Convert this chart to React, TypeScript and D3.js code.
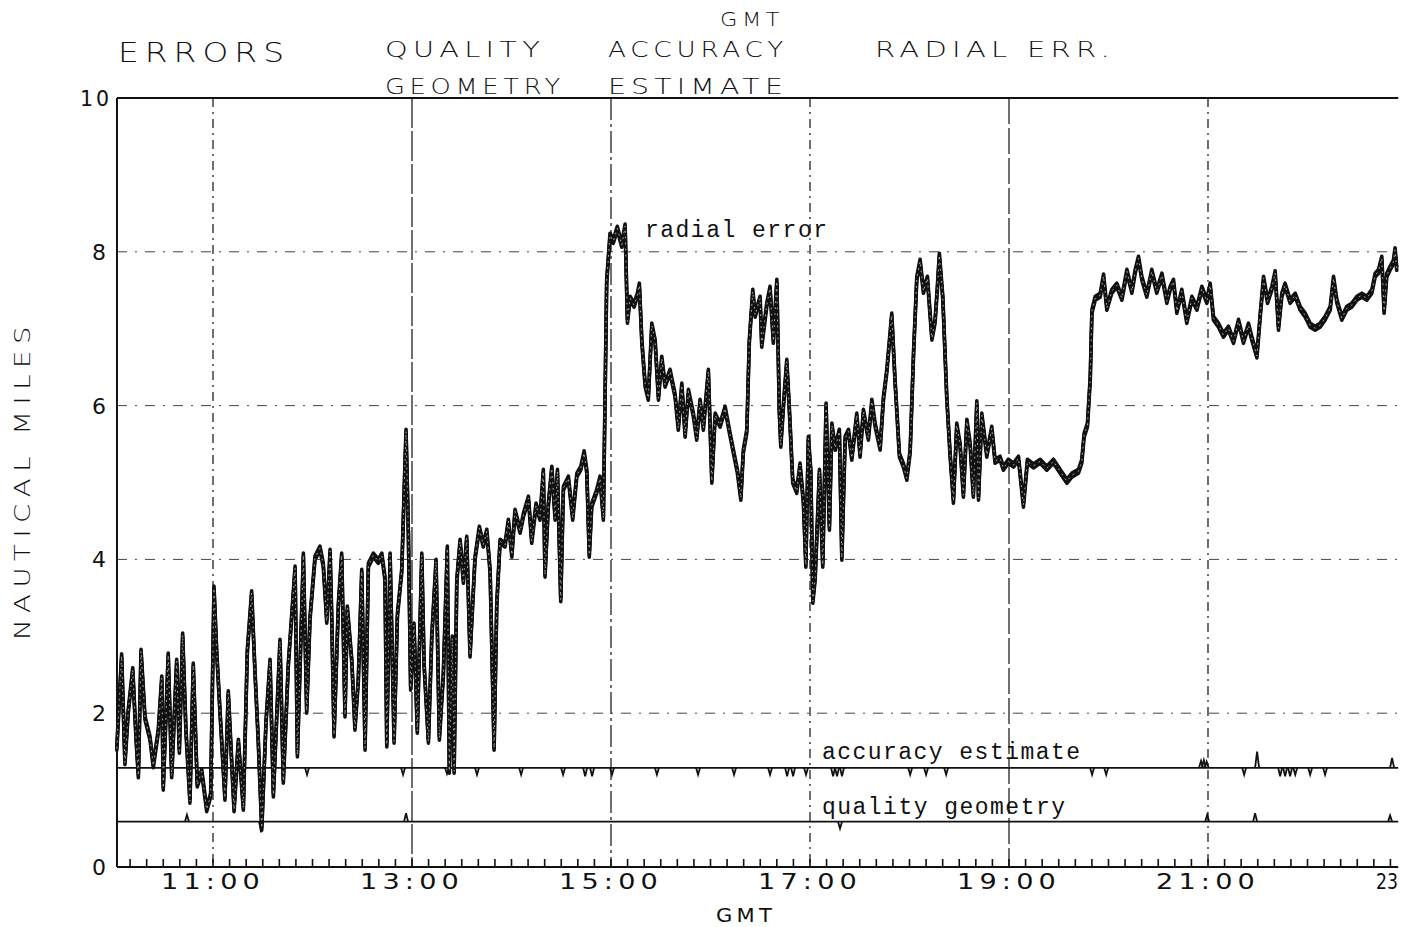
import React from 'react';
import * as d3 from 'd3';

// minutes after 10:00 GMT, nautical miles
const radialMinutes = [
  2.0, 4.9, 6.9, 8.9, 11.6, 13.6, 15.0, 16.6, 19.0, 22.0, 24.0, 27.0, 29.1, 30.0, 33.0, 35.1, 38.1, 39.7,
  41.7, 43.7, 46.1, 48.1, 50.5, 53.2, 56.2, 58.6, 60.6, 62.2, 64.2, 67.2, 69.2, 72.7, 75.3, 78.3, 80.7,
  83.3, 85.3, 87.3, 89.4, 92.0, 94.4, 96.4, 100.4, 102.4, 105.4, 109.5, 110.9, 114.5, 116.5, 118.5, 121.5,
  124.5, 126.5, 128.6, 130.6,
  131.6, 133.0, 135.6, 137.6, 139.6, 141.0, 143.7, 145.6, 147.6, 149.7, 151.7, 153.7, 156.7, 159.7, 161.8,
  163.7, 164.8, 166.8, 169.2, 171.2, 173.8, 176.4, 177.8, 179.2, 181.2, 183.2, 185.9, 187.3, 189.9, 191.9,
  194.5, 196.5, 198.9, 201.3, 202.5, 204.3, 205.4, 207.0, 209.0, 211.0, 213.0, 215.0, 218.0, 220.6, 223.0,
  225.1, 227.1, 229.5, 231.1, 233.1, 236.1, 238.1, 240.2, 242.1, 245.2, 247.2, 250.2, 252.2, 254.8, 257.2,
  259.2, 260.2, 262.2, 264.3, 266.3, 267.7, 269.7, 271.3, 274.3, 276.9, 279.4, 281.8, 283.8, 285.4, 286.9,
  288.4, 291.4, 293.4, 295.4, 297.4, 299.4, 301.4, 303.8, 306.5, 308.5, 309.9, 311.5, 313.9, 315.9, 317.1,
  318.6, 320.6, 322.5, 324.6, 326.6, 328.6, 330.6, 332.6, 335.6, 338.6, 340.6, 342.7, 344.7, 346.7, 349.7,
  351.7, 353.7, 355.7, 358.7, 360.8, 362.8, 365.8, 368.8, 371.4, 373.8, 376.2, 378.3, 379.8, 381.9, 383.4,
  385.5, 386.9, 389.9, 390.9, 393.9, 395.9, 397.9, 400.0, 401.5, 402.4, 404.0, 406.0, 407.6, 409.6, 412.0,
  414.0, 416.0, 417.5, 419.0, 420.5, 421.7, 423.1, 425.7, 427.7, 429.7, 431.7, 433.2, 435.2, 437.7, 439.2,
  441.2, 443.2, 445.2, 448.2, 450.2, 452.2, 455.2, 457.3, 459.3, 462.3, 464.3, 466.3, 469.3, 471.3, 473.9,
  476.3, 478.4, 480.4, 482.4, 484.4, 486.4, 488.4, 490.8, 493.5, 495.4, 496.8, 498.0, 500.1, 502.5, 504.5,
  506.5, 508.5, 510.5,
  512.5, 514.6, 516.6, 518.5, 520.6, 521.6, 523.6, 526.6, 529.6, 531.6, 534.6, 536.6, 539.6, 542.7, 545.7,
  548.7, 551.1, 554.7, 558.8, 562.8, 566.8, 570.8, 574.9, 577.9, 581.9, 583.9, 585.3, 587.3, 589.0, 590.0,
  592.0, 595.0, 597.0, 599.0, 602.0, 605.0, 608.1, 611.1, 614.1, 616.1, 618.1, 620.1, 623.1, 626.1, 629.1,
  632.2, 635.2, 637.2,
  639.2, 641.2, 644.2, 647.2, 650.3, 653.3, 656.3, 659.3, 661.3, 663.3, 666.3, 669.3, 672.3, 675.4, 678.4,
  681.4, 684.4, 686.4, 689.5, 691.5, 693.5, 695.9, 698.5, 700.5, 702.5, 704.5, 706.5, 709.5, 712.6, 715.6,
  718.6, 721.6, 724.6, 727.6, 730.6, 733.7, 735.7, 737.7, 740.7, 743.7, 746.7, 749.8, 752.8, 755.8, 758.8,
  760.8, 762.8, 764.8, 766.2, 767.8, 769.8, 771.8, 772.8, 773.8,
];
const radialMiles = [
  1.52, 2.72, 1.33, 2.0, 2.54, 1.65, 1.16, 2.78, 1.91, 1.65, 1.29, 1.74, 2.43, 1.0, 2.73, 1.16, 2.65, 1.48,
  2.99, 1.74, 0.83, 2.6, 1.04, 1.22, 0.72, 0.91, 3.6, 2.78, 2.0, 0.87, 2.24, 0.72, 1.61, 0.74, 2.78,
  3.54, 2.52, 1.61, 0.48, 1.87, 2.65, 0.91, 2.91, 1.09, 2.6, 3.86, 1.43, 4.03, 2.0, 3.21, 3.99,
  4.12, 3.9, 3.17, 4.08,
  3.21, 1.69, 3.38, 4.03, 1.95, 3.34, 2.65, 1.78, 2.39, 3.82, 1.52, 3.9, 4.03, 3.95, 4.03,
  3.73, 1.56, 4.03, 1.61, 3.25, 3.82, 5.64, 4.34, 2.3, 3.12, 1.74, 4.03, 2.6, 1.61, 2.95,
  3.95, 1.65, 2.47, 4.12, 1.22, 2.95, 1.22, 3.69, 4.21, 3.69, 4.25, 2.73, 3.99, 4.38, 4.16,
  4.34, 3.82, 1.52, 3.38, 4.21, 4.16, 4.47, 4.03, 4.6, 4.34, 4.55, 4.77, 4.21, 4.68, 4.51,
  5.12, 3.77, 4.68, 5.16, 4.51, 5.12, 3.45, 4.9, 5.03, 4.51, 5.07, 5.16, 5.36, 5.12, 4.03,
  4.68, 4.86, 5.03, 4.51, 7.59, 8.19, 8.11, 8.28, 8.06, 8.31, 7.07, 7.37, 7.28, 7.41, 7.54,
  6.81, 6.24, 6.07, 7.02, 6.81, 6.07, 6.59, 6.24, 6.42, 6.11, 5.68, 6.24, 5.59, 6.16, 5.85,
  5.55, 6.03, 5.68, 6.42, 4.99, 5.85, 5.72, 5.94, 5.64, 5.38, 5.12, 4.77, 5.38, 5.64, 6.81,
  7.46, 7.15, 7.37, 6.76, 7.28, 7.5, 6.81, 7.59, 5.9, 5.46, 5.98, 6.55, 5.9, 4.99, 4.86,
  5.2, 4.73, 3.9, 5.55, 5.12, 3.43, 3.73, 5.12, 3.9, 5.98, 4.38, 5.72, 5.42, 5.64, 3.99,
  5.55, 5.64, 5.29, 5.85, 5.33, 5.9, 5.55, 6.03, 5.72, 5.42, 6.07, 6.42, 7.15, 6.29, 5.33,
  5.2, 5.03, 5.38, 6.63, 7.63, 7.85, 7.46, 7.63, 6.85, 7.07, 7.5, 7.93, 7.37, 6.07, 5.33,
  4.73, 5.72, 5.46,
  4.81, 5.77, 5.46, 4.81, 6.01, 4.77, 5.85, 5.33, 5.68, 5.25, 5.29, 5.16, 5.25, 5.2, 5.29,
  4.68, 5.25, 5.19, 5.25, 5.16, 5.25, 5.12, 4.99, 5.07, 5.12, 5.25, 5.59, 5.72, 6.33, 7.2,
  7.37, 7.41, 7.66, 7.24, 7.46, 7.54, 7.37, 7.72, 7.46, 7.72, 7.89, 7.63, 7.41, 7.72, 7.46,
  7.67, 7.33, 7.5,
  7.59, 7.2, 7.46, 7.07, 7.37, 7.24, 7.5, 7.33, 7.54, 7.11, 7.02, 6.89, 6.98, 6.81, 7.07,
  6.81, 7.02, 6.85, 6.62, 7.15, 7.63, 7.33, 7.5, 7.7, 6.98, 7.41, 7.54, 7.33, 7.41, 7.24,
  7.15, 7.02, 6.98, 7.02, 7.11, 7.24, 7.63, 7.33, 7.11, 7.24, 7.28, 7.37, 7.41, 7.37, 7.46,
  7.67, 7.72, 7.89, 7.2, 7.67, 7.76, 7.84, 8.0, 7.76,
];

// accuracy estimate: steady level with short excursions
const accuracyLevel = 1.29;
const accuracyEventMinutes = [
  116.7, 174.6, 201.1, 219.2, 245.8, 271.1, 284.4, 288.6, 300.6, 327.7, 352.5, 374.2, 395.9, 406.2, 409.8,
  417.6, 433.9, 436.3, 439.3, 480.4, 490.0, 502.1, 590.1, 598.6, 655.8, 657.5, 659.2, 681.8, 689.6, 703.5,
  706.5, 709.5, 712.6, 721.6, 730.6, 771.0,
];
const accuracyEventMiles = [
  1.2, 1.2, 1.21, 1.2, 1.2, 1.2, 1.18, 1.18, 1.2, 1.2, 1.2, 1.2, 1.2, 1.18, 1.18,
  1.2, 1.18, 1.18, 1.18, 1.2, 1.2, 1.2, 1.2, 1.2, 1.38, 1.39, 1.37, 1.2, 1.5, 1.18,
  1.18, 1.18, 1.2, 1.2, 1.2, 1.42,
];

// quality geometry
const qualityLevel = 0.59;
const qualityEventMinutes = [44.3, 89.0, 176.4, 438.1, 659.5, 688.4, 769.8];
const qualityEventMiles = [0.68, 0.45, 0.7, 0.5, 0.68, 0.7, 0.67];

const yTicks = [0, 2, 4, 6, 8, 10];
const yTickLabels = ['0', '2', '4', '6', '8', '10'];
const hourLines = [60, 180, 300, 420, 540, 660];
const hourLabels = ['11:00', '13:00', '15:00', '17:00', '19:00', '21:00', '23'];
const hourLabelMinutes = [60, 180, 300, 420, 540, 660, 780];

const W = 1402;
const H = 927;
const plotStart = 2.1;
const plotEnd = 774.7;

const x = d3.scaleLinear().domain([0, 780]).range([113.5, 1407]);
const y = d3.scaleLinear().domain([0, 10]).range([867, 98]);

const plotterFont = "'DejaVu Sans', sans-serif";
const typeFont = "'Liberation Mono', 'DejaVu Sans Mono', monospace";

const gridDash = ['9 5 2 5', '30 3', '22 4 3 4', '9 5 2 5', '26 4', '9 5 2 5'];

// wide plotter-style lettering
const Plot = ({ x0, y0, size, len, spacing, children, anchor }: any) => (
  <text
    x={x0}
    y={y0}
    fontSize={size}
    letterSpacing={spacing}
    textLength={len}
    lengthAdjust="spacingAndGlyphs"
    textAnchor={anchor || 'start'}
  >
    {children}
  </text>
);

export default function App() {
  const radialLine = d3
    .line<number>()
    .x((d, i) => x(radialMinutes[i]))
    .y((d) => y(d));
  const radialPath = radialLine(radialMiles) || '';

  const minorTicks = d3.range(10, plotEnd, 10);

  const eventMark = (t: number, v: number, level: number) => {
    const w = 2;
    return `M${x(t) - w},${y(level)}L${x(t)},${y(v)}L${x(t) + w},${y(level)}`;
  };

  return (
    <svg
      width={W}
      height={H}
      style={{ position: 'absolute', left: 0, top: 0, background: '#fff' }}
    >
      <rect width={W} height={H} fill="#fff" />

      {/* header */}
      <g fontFamily={plotterFont} fontWeight={300} fill="#111">
        <Plot x0={720} y0={26} size={20} len={64} spacing={4}>GMT</Plot>
        <Plot x0={118} y0={62} size={27} len={172} spacing={5}>ERRORS</Plot>
        <Plot x0={385} y0={57} size={22} len={160} spacing={4}>QUALITY</Plot>
        <Plot x0={385} y0={94} size={22} len={180} spacing={4}>GEOMETRY</Plot>
        <Plot x0={608} y0={57} size={22} len={180} spacing={4}>ACCURACY</Plot>
        <Plot x0={608} y0={94} size={22} len={180} spacing={4}>ESTIMATE</Plot>
        <Plot x0={875} y0={57} size={22} len={240} spacing={4}>RADIAL ERR.</Plot>
      </g>

      {/* horizontal grid */}
      {yTicks.filter((v) => v > 0 && v < 10).map((v) => (
        <line
          key={'h' + v}
          x1={x(plotStart)}
          x2={x(plotEnd)}
          y1={y(v)}
          y2={y(v)}
          stroke="#444"
          strokeWidth={1}
          strokeDasharray="10 8 2 8"
        />
      ))}

      {/* vertical grid */}
      {hourLines.map((m, i) => (
        <line
          key={'v' + m}
          x1={x(m)}
          x2={x(m)}
          y1={y(10)}
          y2={y(0)}
          stroke="#222"
          strokeWidth={1.3}
          strokeDasharray={gridDash[i]}
        />
      ))}

      {/* frame */}
      <line x1={x(plotStart)} x2={x(plotEnd)} y1={y(10)} y2={y(10)} stroke="#111" strokeWidth={2} />
      <line x1={x(plotStart)} x2={x(plotStart)} y1={y(10)} y2={y(0)} stroke="#111" strokeWidth={2} />
      <line x1={x(plotStart)} x2={x(plotEnd)} y1={y(0)} y2={y(0)} stroke="#111" strokeWidth={2} />
      {minorTicks.map((m) => (
        <line key={'t' + m} x1={x(m)} x2={x(m)} y1={y(0)} y2={y(0) - 8} stroke="#111" strokeWidth={1.6} />
      ))}

      {/* y tick labels */}
      <g fontFamily={plotterFont} fill="#111">
        {yTicks.map((v, i) =>
          v === 10 ? (
            <Plot key={'yl' + v} x0={80} y0={y(v) + 8} size={21} len={32} spacing={3}>
              {yTickLabels[i]}
            </Plot>
          ) : (
            <Plot key={'yl' + v} x0={92} y0={y(v) + 8} size={21} len={14} spacing={0}>
              {yTickLabels[i]}
            </Plot>
          )
        )}
      </g>

      {/* x tick labels */}
      <g fontFamily={plotterFont} fill="#111">
        {hourLabelMinutes.map((m, i) =>
          i === hourLabels.length - 1 ? (
            <Plot key={'xl' + m} x0={1376} y0={889} size={21} len={22} spacing={0}>
              {hourLabels[i]}
            </Plot>
          ) : (
            <Plot key={'xl' + m} x0={x(m) - 52} y0={889} size={21} len={104} spacing={4}>
              {hourLabels[i]}
            </Plot>
          )
        )}
        <Plot x0={716} y0={922} size={20} len={60} spacing={4}>GMT</Plot>
      </g>

      {/* y axis title */}
      <g fontFamily={plotterFont} fontWeight={300} fill="#111" transform="translate(30,640) rotate(-90)">
        <Plot x0={0} y0={0} size={21} len={320} spacing={5}>NAUTICAL MILES</Plot>
      </g>

      {/* quality geometry */}
      <line
        x1={x(2.6)}
        x2={x(plotEnd)}
        y1={y(qualityLevel)}
        y2={y(qualityLevel)}
        stroke="#111"
        strokeWidth={1.8}
      />
      {qualityEventMinutes.map((t, i) => (
        <path key={'q' + i} d={eventMark(t, qualityEventMiles[i], qualityLevel)} fill="none" stroke="#111" strokeWidth={1.8} />
      ))}

      {/* accuracy estimate */}
      <line
        x1={x(2.6)}
        x2={x(plotEnd)}
        y1={y(accuracyLevel)}
        y2={y(accuracyLevel)}
        stroke="#111"
        strokeWidth={1.8}
      />
      {accuracyEventMinutes.map((t, i) => (
        <path key={'a' + i} d={eventMark(t, accuracyEventMiles[i], accuracyLevel)} fill="none" stroke="#111" strokeWidth={1.8} />
      ))}

      {/* radial error: plotted as a band of overlapping pen strokes */}
      <g fill="none" strokeLinejoin="round" strokeLinecap="round">
        <path d={radialPath} stroke="#111" strokeWidth={3.6} transform="translate(0,-4)" />
        <path d={radialPath} stroke="#111" strokeWidth={3.6} />
        <path d={radialPath} stroke="#111" strokeWidth={3} transform="translate(0,-2)" />
        <path d={radialPath} stroke="#aaa" strokeWidth={1} strokeDasharray="1 5" transform="translate(0,-2)" />
      </g>

      {/* annotations */}
      <g fontFamily={typeFont} fill="#111" fontSize={23}>
        <text x={645} y={237} textLength={182} lengthAdjust="spacing">radial error</text>
        <text x={822} y={759} textLength={258} lengthAdjust="spacing">accuracy estimate</text>
        <text x={822} y={814} textLength={243} lengthAdjust="spacing">quality geometry</text>
      </g>
    </svg>
  );
}
